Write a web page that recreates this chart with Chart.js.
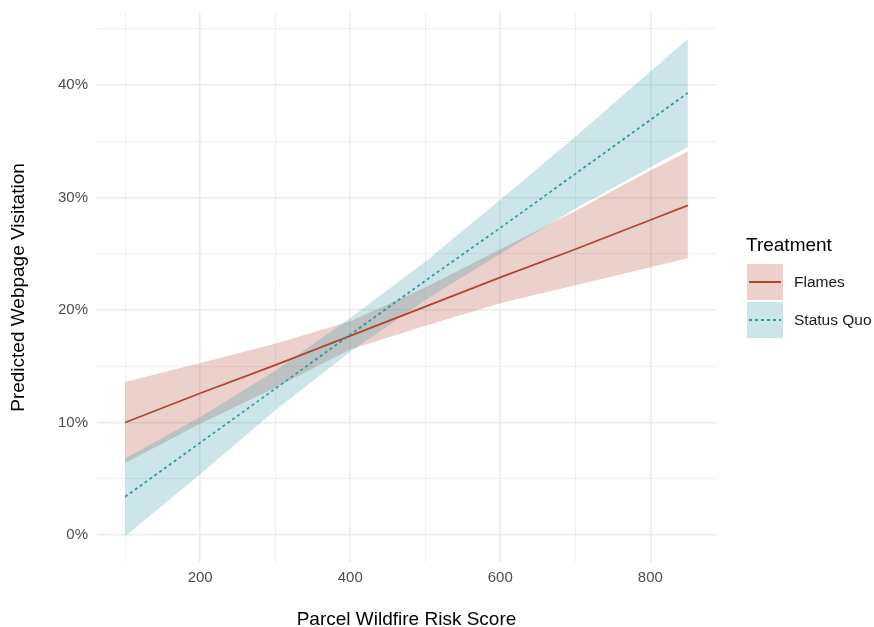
<!DOCTYPE html>
<html>
<head>
<meta charset="utf-8">
<script src="https://cdn.jsdelivr.net/npm/chart.js@4.4.1/dist/chart.umd.min.js"></script>
<style>
  body { margin:0; background:#fff; font-family:"Liberation Sans", Arial, sans-serif; }
  #wrap { position:relative; width:874px; height:627px; }
  .lg-title { position:absolute; left:746px; top:233px; font-size:19px; line-height:24px; color:#000; }
  .key { position:absolute; left:747px; width:36px; height:36px; }
  .key i { position:absolute; left:2px; right:2px; top:17px; height:1.7px; }
  .lab { position:absolute; left:794px; font-size:15.5px; line-height:20px; color:#1a1a1a; }
</style>
</head>
<body>
<div id="wrap">
  <canvas id="chart" width="874" height="627"></canvas>
  <div class="lg-title">Treatment</div>
  <div class="key" style="top:264px;background:rgba(178,67,47,0.25)"><i style="background:#b2432f"></i></div>
  <div class="lab" style="top:272px">Flames</div>
  <div class="key" style="top:302px;background:rgba(46,151,167,0.25)"><i style="background:repeating-linear-gradient(90deg,#2e97a7 0 3px,transparent 3px 6px)"></i></div>
  <div class="lab" style="top:310px">Status Quo</div>
</div>
<script>
// risk score values where the curves were read
const riskScore = [100, 200, 300, 400, 500, 600, 700, 800, 850];
// predicted visitation, %
const flamesFit  = [10.0, 12.6, 15.1, 17.7, 20.3, 22.9, 25.4, 28.0, 29.3];
const flamesHigh = [13.6, 15.3, 17.0, 19.0, 22.0, 25.4, 28.8, 32.4, 34.1];
const flamesLow  = [6.4, 9.9, 13.1, 16.5, 18.6, 20.6, 22.2, 23.8, 24.6];
const quoFit  = [3.4, 8.2, 13.0, 17.8, 22.6, 27.3, 32.1, 36.9, 39.3];
const quoHigh = [6.8, 10.5, 14.6, 19.3, 24.3, 29.8, 35.4, 41.2, 44.1];
const quoLow  = [-0.1, 5.4, 11.1, 16.3, 20.9, 25.0, 29.0, 32.7, 34.5];

const xTicks = [100, 200, 300, 400, 500, 600, 700, 800];
const xLabels = [200, 400, 600, 800];
const yTicks = [0, 5, 10, 15, 20, 25, 30, 35, 40, 45];
const yLabels = [0, 10, 20, 30, 40];

const RED = '#b2432f', TEAL = '#2e97a7';
const RED_FILL = 'rgba(178,67,47,0.25)', TEAL_FILL = 'rgba(46,151,167,0.25)';

const pts = arr => arr.map((v, i) => ({ x: riskScore[i], y: v }));
const base = { pointRadius:0, pointHoverRadius:0, tension:0 };
const noPad = s => { s.paddingTop = 0; s.paddingBottom = 0; s.paddingLeft = 0; s.paddingRight = 0; };

new Chart(document.getElementById('chart'), {
  type:'line',
  data:{
    datasets:[
      { ...base, label:'flamesLow', data:pts(flamesLow), borderWidth:0, fill:false, order:5 },
      { ...base, label:'quoLow', data:pts(quoLow), borderWidth:0, fill:false, order:4 },
      { ...base, label:'flamesHigh', data:pts(flamesHigh), borderWidth:0, backgroundColor:RED_FILL, fill:{ target:0 }, order:3 },
      { ...base, label:'quoHigh', data:pts(quoHigh), borderWidth:0, backgroundColor:TEAL_FILL, fill:{ target:1 }, order:2 },
      { ...base, label:'Flames', data:pts(flamesFit), borderColor:RED, borderWidth:1.7, fill:false, order:1 },
      { ...base, label:'Status Quo', data:pts(quoFit), borderColor:TEAL, borderWidth:1.7, borderDash:[3,3], fill:false, order:0 }
    ]
  },
  options:{
    responsive:false,
    animation:false,
    layout:{ padding:{ top:13, right:158, left:0, bottom:0 } },
    plugins:{ legend:{ display:false }, tooltip:{ enabled:false } },
    scales:{
      x:{
        type:'linear', min:62.5, max:887.5,
        afterBuildTicks: s => { s.ticks = xTicks.map(v => ({ value:v })); },
        afterFit: s => { s.height = 65; noPad(s); },
        border:{ display:false },
        grid:{ drawTicks:false, color:'#ebebeb', lineWidth: c => xLabels.includes(c.tick.value) ? 1.6 : 0.8 },
        ticks:{ padding:7, color:'#4d4d4d', font:{ family:'Liberation Sans', size:15 }, maxRotation:0, autoSkip:false,
          callback: v => xLabels.includes(v) ? String(v) : '' },
        title:{ display:true, text:'Parcel Wildfire Risk Score', color:'#000',
          font:{ family:'Liberation Sans', size:19, lineHeight:0.75 }, padding:{ top:0, bottom:0 } }
      },
      y:{
        type:'linear', min:-2.4, max:46.4,
        afterBuildTicks: s => { s.ticks = yTicks.map(v => ({ value:v })); },
        afterFit: s => { s.width = 97; noPad(s); },
        border:{ display:false },
        grid:{ drawTicks:false, color:'#ebebeb', lineWidth: c => yLabels.includes(c.tick.value) ? 1.6 : 0.8 },
        ticks:{ padding:9, color:'#4d4d4d', font:{ family:'Liberation Sans', size:15 }, autoSkip:false,
          callback: v => yLabels.includes(v) ? v + '%' : '' },
        title:{ display:true, text:'Predicted Webpage Visitation', color:'#000',
          font:{ family:'Liberation Sans', size:19, lineHeight:1 }, padding:{ top:9, bottom:0 } }
      }
    }
  }
});
</script>
</body>
</html>
